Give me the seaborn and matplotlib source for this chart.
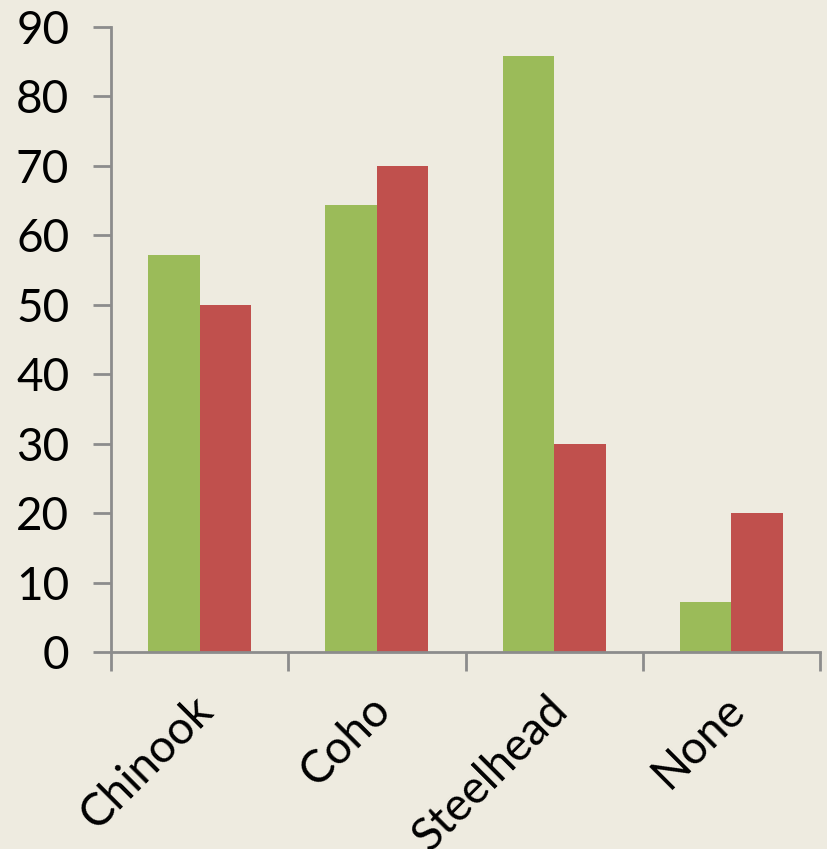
import matplotlib
matplotlib.use("Agg")
import matplotlib.pyplot as plt
import matplotlib.transforms as mtransforms
import seaborn as sns
import pandas as pd
from matplotlib.ticker import FixedLocator

categories = ["Chinook", "Coho", "Steelhead", "None"]
series_names = ["Series A", "Series B"]
green_values = [57.2, 64.4, 85.8, 7.2]
red_values = [50, 70, 30, 20]
yticks = [0, 10, 20, 30, 40, 50, 60, 70, 80, 90]

bg = "#EEEBE0"
colors = ["#9BBB59", "#C0504D"]
axis_color = "#8C8C8C"

df = pd.DataFrame({
    "category": categories * 2,
    "series": [series_names[0]] * 4 + [series_names[1]] * 4,
    "value": green_values + red_values,
})

sns.set_theme(style="white")
plt.rcParams["font.family"] = ["Lato", "DejaVu Sans"]

fig = plt.figure(figsize=(8.27, 8.49), dpi=100, facecolor=bg)
ax = fig.add_axes([111 / 827, 1 - 652 / 849, (820 - 111) / 827, (652 - 27) / 849])
ax.set_facecolor(bg)

sns.barplot(data=df, x="category", y="value", hue="series", order=categories,
            hue_order=series_names, palette=colors, width=0.58, saturation=1,
            edgecolor="none", linewidth=0, ax=ax, legend=False)

ax.set_xlim(-0.5, 3.5)
ax.set_ylim(0, 90)
ax.set_yticks(yticks)
ax.set_yticklabels([str(v) for v in yticks], fontsize=33, color="black")
ax.set_xticks(range(len(categories)))
ax.set_xticklabels(categories, fontsize=33, rotation=45, ha="right",
                   rotation_mode="anchor", color="black")
ax.xaxis.set_minor_locator(FixedLocator([-0.5, 0.5, 1.5, 2.5, 3.5]))
ax.tick_params(axis="x", which="major", length=0, pad=26, bottom=True)
ax.tick_params(axis="x", which="minor", length=14, width=2, color=axis_color,
               direction="out", bottom=True)
ax.tick_params(axis="y", which="major", length=13, width=2, color=axis_color,
               direction="out", pad=17, left=True)
ax.set_xlabel("")
ax.set_ylabel("")

shift = mtransforms.ScaledTranslation(-0.08, 0, fig.dpi_scale_trans)
for lbl in ax.get_xticklabels():
    lbl.set_transform(lbl.get_transform() + shift)

for side in ["top", "right"]:
    ax.spines[side].set_visible(False)
for side in ["left", "bottom"]:
    ax.spines[side].set_visible(True)
    ax.spines[side].set_color(axis_color)
    ax.spines[side].set_linewidth(2)

fig.savefig("out.png", dpi=100, facecolor=bg)
